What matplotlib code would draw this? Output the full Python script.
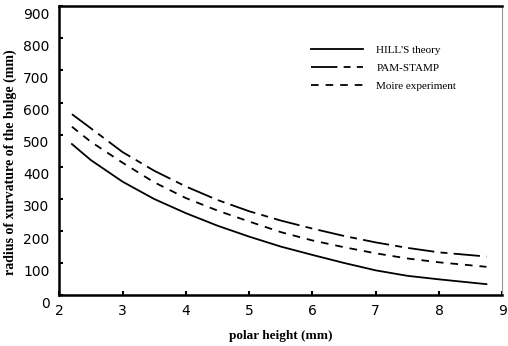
import matplotlib
matplotlib.use("Agg")
import matplotlib.pyplot as plt
from matplotlib.transforms import ScaledTranslation

# values (polar height in mm, radius in mm)
height = [2.2, 2.5, 3, 3.5, 4, 4.5, 5, 5.5, 6, 6.5, 7, 7.5, 8, 8.75]
hill = [471, 421, 354, 300, 256, 217, 183, 152, 126, 101, 78, 61, 50, 35]
pam_stamp = [564, 520, 446, 388, 339, 297, 262, 233, 208, 185, 165, 148, 134, 121]
moire = [525, 478, 413, 352, 303, 264, 230, 197, 171, 150, 131, 115, 103, 89]

x_ticks = [2, 3, 4, 5, 6, 7, 8, 9]
y_ticks = [0, 100, 200, 300, 400, 500, 600, 700, 800, 900]

plt.rcParams["lines.scale_dashes"] = False

fig = plt.figure(figsize=(5.08, 3.46), dpi=100)
ax = fig.add_axes([0.1167, 0.1462, 0.872, 0.8358])

ax.plot(height, hill, color="black", lw=1.3, label="HILL'S theory")
ax.plot(height, pam_stamp, color="black", lw=1.3, dashes=(19, 4.5, 5, 4.5), label="PAM-STAMP")
ax.plot(height, moire, color="black", lw=1.3, dashes=(5.5, 5), label="Moire experiment")

ax.set_xlim(2, 9)
ax.set_ylim(0, 900)
ax.set_xticks(x_ticks)
ax.set_yticks(y_ticks)
ax.tick_params(direction="in", length=3, width=1.5, labelsize=10, pad=6)
ax.tick_params(axis="y", pad=7)

# y tick labels sit a little below their tick in the scan
for lab in ax.get_yticklabels():
    lab.set_transform(lab.get_transform() + ScaledTranslation(0, -5 / 72, fig.dpi_scale_trans))

for side in ["left", "bottom", "top"]:
    ax.spines[side].set_linewidth(1.8)
ax.spines["right"].set_linewidth(0.8)
ax.spines["right"].set_color("#999999")

ax.set_xlabel("polar height (mm)", family="Liberation Serif", fontweight="bold", fontsize=9.5, labelpad=9)
ax.set_ylabel("radius of xurvature of the bulge (mm)", family="Liberation Serif", fontweight="bold",
              fontsize=10)
ax.yaxis.set_label_coords(-0.095, 0.461)

ax.legend(loc="upper left", bbox_to_anchor=(0.545, 0.9), frameon=False,
          prop={"family": "Liberation Serif", "size": 8}, handlelength=4.7,
          handletextpad=1.2, labelspacing=0.75)

fig.savefig("out.png", dpi=100)
